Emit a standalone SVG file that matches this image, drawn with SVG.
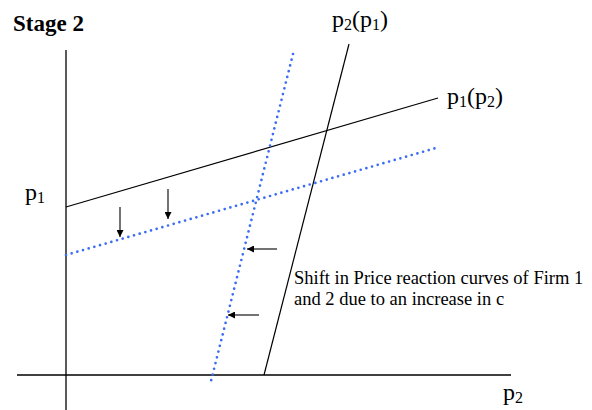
<svg xmlns="http://www.w3.org/2000/svg" width="592" height="410" viewBox="0 0 592 410">
<style>
.t{font-family:"Liberation Serif","Times New Roman",serif;fill:#000}
.lbl{font-size:24px}
.sub{font-size:16px}
.ax{stroke:#000;stroke-width:1.3;fill:none}
.cv{stroke:#000;stroke-width:1.2;fill:none}
.dot{stroke:#3B6CF5;stroke-width:2.7;stroke-linecap:round;stroke-dasharray:0 5.9;fill:none}
.arr{stroke:#000;stroke-width:1.1;fill:none;marker-end:url(#ah)}
</style>
<defs>
<marker id="ah" viewBox="0 0 10 10" refX="10" refY="5" markerWidth="8" markerHeight="7" markerUnits="userSpaceOnUse" orient="auto">
<path d="M0,0 L10,5 L0,10 Z" fill="#000"/>
</marker>
</defs>
<rect width="592" height="410" fill="#fff"/>
<g id="title"><text class="t" x="13" y="31" font-size="23" font-weight="bold">Stage 2</text></g>
<g id="axes">
<line class="ax" x1="66" y1="50" x2="66" y2="410"/>
<line class="ax" x1="17" y1="375" x2="511" y2="375"/>
</g>
<g id="connectors">
<line class="cv" x1="66" y1="207" x2="438" y2="98"/>
<line class="cv" x1="349" y1="44" x2="264" y2="375"/>
<line class="dot" x1="66" y1="255" x2="436" y2="148"/>
<line class="dot" x1="293" y1="54" x2="211" y2="381"/>
<line class="arr" x1="120" y1="207" x2="120" y2="237"/>
<line class="arr" x1="168" y1="189" x2="168" y2="219"/>
<line class="arr" x1="277" y1="249" x2="247" y2="249"/>
<line class="arr" x1="259" y1="315" x2="228" y2="315"/>
</g>
<g id="label-p1"><text class="t lbl" x="25" y="200">p<tspan class="sub" dy="3">1</tspan></text></g>
<g id="label-p2"><text class="t lbl" x="503" y="400">p<tspan class="sub" dy="3">2</tspan></text></g>
<g id="label-p2p1"><text class="t lbl" x="332" y="27">p<tspan class="sub" dy="3">2</tspan><tspan dy="-3">(p</tspan><tspan class="sub" dy="3">1</tspan><tspan dy="-3">)</tspan></text></g>
<g id="label-p1p2"><text class="t lbl" x="447" y="104">p<tspan class="sub" dy="3">1</tspan><tspan dy="-3">(p</tspan><tspan class="sub" dy="3">2</tspan><tspan dy="-3">)</tspan></text></g>
<g id="note">
<text class="t" x="294" y="283.5" font-size="18.5">Shift in Price reaction curves of Firm 1</text>
<text class="t" x="294" y="305" font-size="18.5">and 2 due to an increase in c</text>
</g>
</svg>
